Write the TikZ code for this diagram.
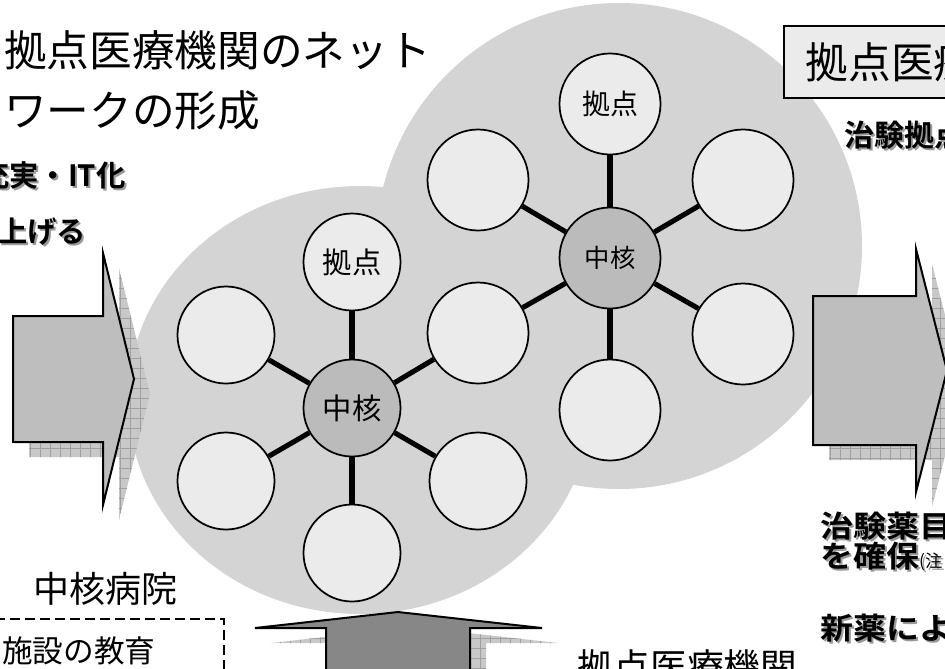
\documentclass[tikz,border=0pt]{standalone}
\usepackage{fontspec}
\setmainfont{Noto Sans CJK JP}[BoldFont={Noto Sans CJK JP Bold}]
\newfontfamily\widebold{Noto Sans CJK JP Bold}[FakeStretch=1.1]
\usetikzlibrary{patterns.meta}
\definecolor{cloudc}{HTML}{D4D4D4}
\definecolor{nodec}{HTML}{EBEBEB}
\definecolor{hubc}{HTML}{BBBBBB}
\definecolor{arrc}{HTML}{BEBEBE}
\definecolor{arrdark}{HTML}{878787}
\definecolor{shadc}{HTML}{C8C8C8}
\definecolor{gridc}{HTML}{A0A0A0}
\definecolor{txtsh}{HTML}{9A9A9A}
\newcommand{\myLArrow}[1]{\path[#1] (13,316) -- (103,316) -- (103,253) -- (134,379) -- (103,505) -- (103,442) -- (13,442) -- cycle;}
\newcommand{\myRArrow}[1]{\path[#1] (813,296) -- (916,296) -- (916,249) -- (947,370.5) -- (916,492) -- (916,445) -- (813,445) -- cycle;}
\newcommand{\myBArrow}[1]{\path[#1] (326,690) -- (326,628) -- (255,628) -- (398,612) -- (542,628) -- (470,628) -- (470,690) -- cycle;}
\begin{document}
\begin{tikzpicture}[x=0.75pt, y=-0.75pt,
  pnode/.style={circle, draw=black, line width=1.3pt, fill=nodec, minimum size=72.75pt, inner sep=0pt},
  pnodeR/.style={pnode, minimum size=75.75pt},
  hubL/.style={pnode, fill=hubc},
  hubR/.style={pnodeR, fill=hubc},
  spoke/.style={line width=3.8pt},
  shadowfill/.style={fill=shadc},
  gridA/.style={pattern={Lines[distance=7.5pt,angle=0,line width=0.4pt]}, pattern color=gridc},
  gridB/.style={pattern={Lines[distance=7.5pt,angle=90,line width=0.4pt]}, pattern color=gridc},
  arrowbox/.style={draw=black, line width=1.5pt, line join=miter},
  lbl/.style={inner sep=0pt, anchor=west},
  titlef/.style={lbl, font=\fontsize{32pt}{38pt}\selectfont},
  boldf/.style={lbl, font=\bfseries\fontsize{#1}{#1}\selectfont},
  wboldf/.style={inner sep=0pt, anchor=base west, text height=0.78em, text depth=0.04em, font=\widebold\fontsize{#1}{#1}\selectfont},
  shad/.style={text=txtsh}
]
\useasboundingbox (0,0) rectangle (945,668);
\clip (0,0) rectangle (945,668);

% cloud background
\fill[cloudc] (360,400) ellipse [x radius=174pt, y radius=160.5pt];
\fill[cloudc] (619,246) circle [radius=182.25pt];

% arrow shadows
\begin{scope}[shift={(16,15)}]
  \myLArrow{shadowfill}
  \myLArrow{gridA}
  \myLArrow{gridB}
  \myRArrow{shadowfill}
  \myRArrow{gridA}
  \myRArrow{gridB}
  \myBArrow{shadowfill}
  \myBArrow{gridA}
  \myBArrow{gridB}
\end{scope}

% arrows
\myLArrow{arrowbox, fill=arrc}
\myRArrow{arrowbox, fill=arrc}
\myBArrow{arrowbox, fill=arrdark}

% left cluster
\node[hubL, font=\fontsize{22pt}{22pt}\selectfont] (hL) at (352,408) {中核};
\node[pnode, font=\fontsize{22pt}{22pt}\selectfont] (L1) at (352,262) {拠点};
\node[pnode] (L2) at (226,335) {};
\node[pnode] (L3) at (226,481) {};
\node[pnode] (L4) at (352,553) {};
\node[pnode] (L5) at (478,481) {};
% shared
\node[pnodeR] (S) at (478,333) {};
% right cluster
\node[hubR, font=\fontsize{19pt}{19pt}\selectfont] (hR) at (610,258) {中核};
\node[pnodeR, font=\fontsize{21pt}{21pt}\selectfont] (R1) at (610,104) {拠点};
\node[pnodeR] (R2) at (478,180) {};
\node[pnodeR] (R3) at (743,180) {};
\node[pnodeR] (R4) at (743,334) {};
\node[pnodeR] (R5) at (610,410) {};

\foreach \n in {L1,L2,L3,L4,L5,S} \draw[spoke] (hL) -- (\n);
\foreach \n in {R1,R2,R3,R4,R5,S} \draw[spoke] (hR) -- (\n);

% titles
\node[titlef] (ti1) at (4,50) {拠点医療機関のネット};
\node[titlef] (ti2) at (4,110) {ワークの形成};

% bold shadowed texts
\node[boldf=22pt, shad] (a1s) at (-18,177) {充実・IT化};
\node[boldf=22pt] (a1) at (-20,175) {充実・IT化};
\node[boldf=22pt, shad] (a2s) at (0,234) {上げる};
\node[boldf=22pt] (a2) at (-2,232) {上げる};

% top-right box
\node[lbl, draw=black, line width=1.2pt, fill=nodec, minimum height=54pt, inner xsep=16.5pt,
      font=\fontsize{32pt}{32pt}\selectfont] (box) at (783,62) {拠点医療機関};
\node[boldf=22.5pt, shad] (b1s) at (846,137) {治験拠点};
\node[boldf=22.5pt] (b1) at (844,135) {治験拠点};

% bottom-right texts
\node[wboldf=22.5pt, shad] (c1s) at (822,539) {治験薬目};
\node[wboldf=22.5pt] (c1) at (820,537) {治験薬目};
\node[wboldf=22.5pt, shad] (c2s) at (822,569) {を確保{\normalfont\fontsize{13pt}{13pt}\selectfont (注}};
\node[wboldf=22.5pt] (c2) at (820,567) {を確保{\normalfont\fontsize{13pt}{13pt}\selectfont (注}};
\node[wboldf=22.5pt, shad] (c3s) at (822,641) {新薬によ};
\node[wboldf=22.5pt] (c3) at (820,639) {新薬によ};

% bottom-left
\node[lbl, font=\fontsize{27pt}{27pt}\selectfont] (d1) at (33,589) {中核病院};
\draw[dashed, dash pattern=on 7.5pt off 3.75pt, line width=1.1pt] (-10,619) rectangle (224,700);
\node[lbl, font=\fontsize{23pt}{23pt}\selectfont] (d2) at (2,651) {施設の教育};

% bottom middle
\node[lbl, font=\fontsize{27.5pt}{27.5pt}\selectfont] (e1) at (577,667) {拠点医療機関};
\end{tikzpicture}
\end{document}
